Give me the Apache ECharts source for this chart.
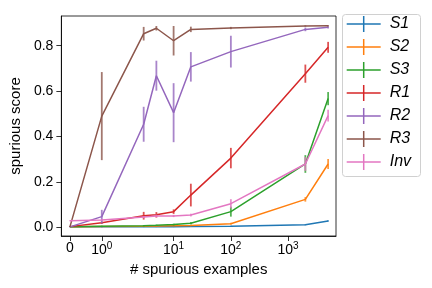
<!DOCTYPE html>
<html><head><meta charset="utf-8">
<script src="https://cdn.jsdelivr.net/npm/echarts@6/dist/echarts.min.js"></script>
<style>html,body{margin:0;padding:0;background:#fff}#c{width:432px;height:288px}</style>
</head><body><div id="c"></div>
<script>
const xValues = [0, 1, 3, 5, 10, 20, 100, 2000, 5000];
const seriesNames = ['S1', 'S2', 'S3', 'R1', 'R2', 'R3', 'Inv'];
const S1 = [0.002, 0.002, 0.003, 0.003, 0.003, 0.004, 0.005, 0.011, 0.028];
const S1err = [0.002, 0.002, 0.002, 0.002, 0.002, 0.002, 0.002, 0.002, 0.003];
const S2 = [0.003, 0.004, 0.005, 0.006, 0.007, 0.008, 0.016, 0.123, 0.279];
const S2err = [0.002, 0.002, 0.002, 0.002, 0.002, 0.003, 0.004, 0.010, 0.022];
const S3 = [0.003, 0.005, 0.007, 0.009, 0.012, 0.018, 0.069, 0.279, 0.567];
const S3err = [0.002, 0.002, 0.003, 0.003, 0.004, 0.005, 0.022, 0.039, 0.029];
const R1 = [0.003, 0.020, 0.051, 0.055, 0.069, 0.142, 0.305, 0.677, 0.793];
const R1err = [0.002, 0.005, 0.017, 0.012, 0.010, 0.050, 0.045, 0.040, 0.024];
const R2 = [0.002, 0.047, 0.454, 0.668, 0.505, 0.707, 0.774, 0.872, 0.881];
const R2err = [0.002, 0.030, 0.077, 0.066, 0.130, 0.065, 0.070, 0.008, 0.005];
const R3 = [0.003, 0.490, 0.853, 0.877, 0.822, 0.872, 0.878, 0.887, 0.888];
const R3err = [0.002, 0.194, 0.030, 0.010, 0.065, 0.012, 0.005, 0.003, 0.003];
const Inv = [0.029, 0.032, 0.045, 0.050, 0.050, 0.054, 0.104, 0.279, 0.492];
const InvErr = [0.002, 0.003, 0.005, 0.006, 0.005, 0.006, 0.020, 0.030, 0.026];
const xTickValues = [0, 1, 10, 100, 1000];
const xTickLabels = ['0', '10^0', '10^1', '10^2', '10^3'];
const yTickValues = [0, 0.2, 0.4, 0.6, 0.8];

const colors = ['#1f77b4', '#ff7f0e', '#2ca02c', '#d62728', '#9467bd', '#8c564b', '#e377c2'];
const means = [S1, S2, S3, R1, R2, R3, Inv];
const errs = [S1err, S2err, S3err, R1err, R2err, R3err, InvErr];
const FONT = '"Liberation Sans", Arial, Helvetica, sans-serif';

// symlog transform (linthresh = 2, linscale = 1)
const LT = 2, ADJ = 1 / (1 - 1 / 10);
function symlog(x) {
  return x <= LT ? x * ADJ : LT * (ADJ + Math.log10(x / LT));
}
const xTickPos = xTickValues.map(symlog);

function xLabel(v) {
  let best = 0;
  xTickPos.forEach((p, i) => { if (Math.abs(p - v) < Math.abs(xTickPos[best] - v)) best = i; });
  const t = xTickLabels[best];
  if (t.indexOf('^') < 0) return '{b|' + t + '}';
  const parts = t.split('^');
  return '{b|' + parts[0] + '}{s|' + parts[1] + '}';
}

const series = [];
seriesNames.forEach((name, i) => {
  series.push({
    name: name, type: 'line', symbol: 'none', silent: true,
    data: xValues.map((x, j) => [symlog(x), means[i][j]]),
    lineStyle: { color: colors[i], width: 1.5 },
    itemStyle: { color: colors[i] },
    z: 2 + i * 2, animation: false
  });
  series.push({
    name: name, type: 'custom', silent: true,
    data: xValues.map((x, j) => [symlog(x), means[i][j] - errs[i][j], means[i][j] + errs[i][j]]),
    encode: { x: 0, y: [1, 2] },
    renderItem: (params, api) => {
      const p1 = api.coord([api.value(0), api.value(1)]);
      const p2 = api.coord([api.value(0), api.value(2)]);
      return { type: 'line', shape: { x1: p1[0], y1: p1[1], x2: p2[0], y2: p2[1] },
        style: { stroke: colors[i], lineWidth: 1.8, opacity: 0.8 } };
    },
    z: 3 + i * 2, animation: false
  });
});

const chart = echarts.init(document.getElementById('c'), null, { renderer: 'canvas' });
chart.setOption({
  animation: false,
  color: colors,
  grid: { left: 59, top: 16, width: 277, height: 220, show: true, borderColor: '#000', borderWidth: 0.8, containLabel: false },
  xAxis: {
    type: 'value', min: -0.301, max: 9.293,
    axisLine: { show: true, onZero: false, lineStyle: { color: '#000', width: 0.8 } },
    axisTick: { show: true, customValues: xTickPos, length: 5, lineStyle: { color: '#000', width: 0.8 } },
    axisLabel: { customValues: xTickPos, formatter: xLabel, color: '#000', margin: 5,
      rich: { b: { fontSize: 14, fontFamily: FONT, color: '#000' },
              s: { fontSize: 10, fontFamily: FONT, color: '#000', padding: [0, 0, 8, 0] } } },
    splitLine: { show: false },
    name: '# spurious examples', nameLocation: 'middle', nameGap: 26,
    nameTextStyle: { fontSize: 15, fontFamily: FONT, color: '#000' }
  },
  yAxis: {
    type: 'value', min: -0.0383, max: 0.931,
    axisLine: { show: true, onZero: false, lineStyle: { color: '#000', width: 0.8 } },
    axisTick: { show: true, customValues: yTickValues, length: 5, lineStyle: { color: '#000', width: 0.8 } },
    axisLabel: { customValues: yTickValues, formatter: v => v.toFixed(1), color: '#000', fontSize: 14, fontFamily: FONT, margin: 8 },
    splitLine: { show: false },
    name: 'spurious score', nameLocation: 'middle', nameGap: 34,
    nameTextStyle: { fontSize: 15, fontFamily: FONT, color: '#000' }
  },
  legend: {
    orient: 'vertical', left: 346.7, top: 16, padding: 0,
    itemWidth: 34, itemHeight: 16, itemGap: 7, selectedMode: false,
    icon: 'path://M0,7.25L34,7.25L34,8.75L0,8.75Z M16.25,0L17.75,0L17.75,16L16.25,16Z',
    textStyle: { fontSize: 16, fontStyle: 'italic', fontFamily: FONT, color: '#000', padding: [0, 0, 0, 4], lineHeight: 16 },
    data: seriesNames
  },
  graphic: [{
    type: 'rect', z: 1, silent: true,
    shape: { x: 342.5, y: 14.5, width: 78, height: 162, r: 3 },
    style: { fill: '#fff', stroke: '#d0d0d0', lineWidth: 1 }
  }],
  series: series
});
</script>
</body></html>
